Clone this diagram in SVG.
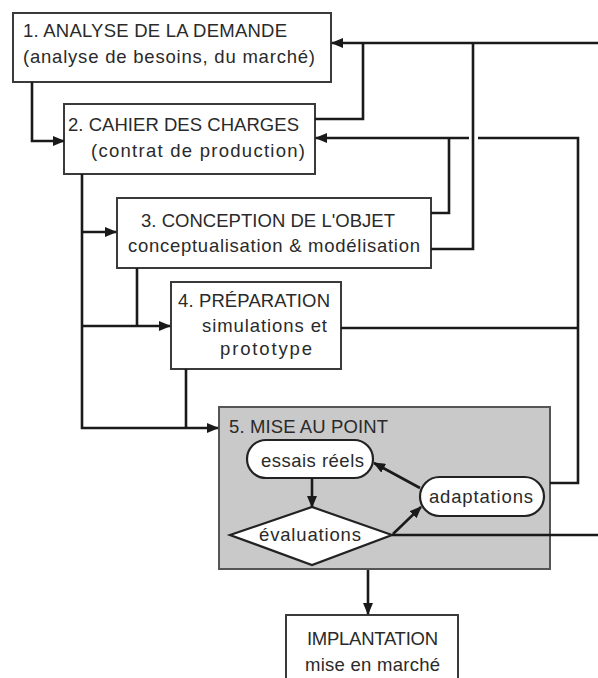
<svg xmlns="http://www.w3.org/2000/svg" width="598" height="678" viewBox="0 0 598 678">
<defs>
<marker id="ah" markerWidth="12" markerHeight="10" refX="11" refY="5" orient="auto" markerUnits="userSpaceOnUse">
<path d="M0,0 L12,5 L0,10 Z" fill="#1a1a1a"/>
</marker>
</defs>
<style>
.box{fill:#fff;stroke:#3a3a3a;stroke-width:2}
.pill{fill:#fff;stroke:#222;stroke-width:2.2}
.gray{fill:#c9c9c9;stroke:#555;stroke-width:2}
.t{font-family:"Liberation Sans",Arial,sans-serif;font-size:18.5px;fill:#2a2a2a}
.c{fill:none;stroke:#1a1a1a;stroke-width:2.6}
.a{fill:none;stroke:#1a1a1a;stroke-width:2.6;marker-end:url(#ah)}
</style>
<rect width="598" height="678" fill="#fff"/>

<g id="n1">
<rect class="box" x="13" y="13" width="318" height="69"/>
<text class="t" x="23" y="37" textLength="264">1. ANALYSE DE LA DEMANDE</text>
<text class="t" x="23" y="63" textLength="292">(analyse de besoins, du marché)</text>
</g>
<g id="n2">
<rect class="box" x="64" y="104" width="251" height="70"/>
<text class="t" x="68" y="131" textLength="231">2. CAHIER DES CHARGES</text>
<text class="t" x="91" y="157" textLength="214">(contrat de production)</text>
</g>
<g id="n3">
<rect class="box" x="117" y="198" width="314" height="70"/>
<text class="t" x="141" y="227" textLength="254">3. CONCEPTION DE L'OBJET</text>
<text class="t" x="128" y="252" textLength="292">conceptualisation &amp; modélisation</text>
</g>
<g id="n4">
<rect class="box" x="171" y="282" width="170" height="87"/>
<text class="t" x="178" y="307" textLength="152">4. PRÉPARATION</text>
<text class="t" x="202" y="332" textLength="125">simulations et</text>
<text class="t" x="220" y="355" textLength="92">prototype</text>
</g>
<g id="n5">
<rect class="gray" x="219" y="407" width="331" height="162"/>
<text class="t" x="229" y="433" textLength="159">5. MISE AU POINT</text>
</g>
<g id="n5a">
<rect class="pill" x="247" y="440" width="126" height="38" rx="19"/>
<text class="t" x="261" y="467" textLength="103">essais réels</text>
</g>
<g id="n5b">
<polygon class="pill" points="230,535 312,507 392,535 312,565"/>
<text class="t" x="259" y="541" textLength="102">évaluations</text>
</g>
<g id="n5c">
<rect class="pill" x="420" y="477" width="124" height="39" rx="19.5"/>
<text class="t" x="429" y="503" textLength="104">adaptations</text>
</g>
<g id="n6">
<rect class="box" x="286" y="615" width="172" height="80"/>
<text class="t" x="307" y="645" textLength="131">IMPLANTATION</text>
<text class="t" x="305" y="671" textLength="135">mise en marché</text>
</g>

<g id="connectors">
<path class="a" d="M32,82 V141 H64"/>
<path class="a" d="M598,43 H332"/>
<path class="c" d="M315,119 H363 V43"/>
<path class="c" d="M431,249 H473 V43"/>
<path class="c" d="M550,483 H578 V138 H478"/>
<path class="a" d="M469,138 H316"/>
<path class="c" d="M431,213 H449 V138"/>
<path class="c" d="M341,328 H578"/>
<path class="a" d="M82,174 V428 H218"/>
<path class="a" d="M82,232 H116"/>
<path class="a" d="M82,326 H170"/>
<path class="c" d="M137,268 V326"/>
<path class="c" d="M186,369 V428"/>
<path class="a" d="M312,478 V507"/>
<path class="a" d="M393,534 L421,507"/>
<path class="a" d="M420,488 L374,463"/>
<path class="c" d="M392,535 H598"/>
<path class="a" d="M368,570 V614"/>
</g>
</svg>
